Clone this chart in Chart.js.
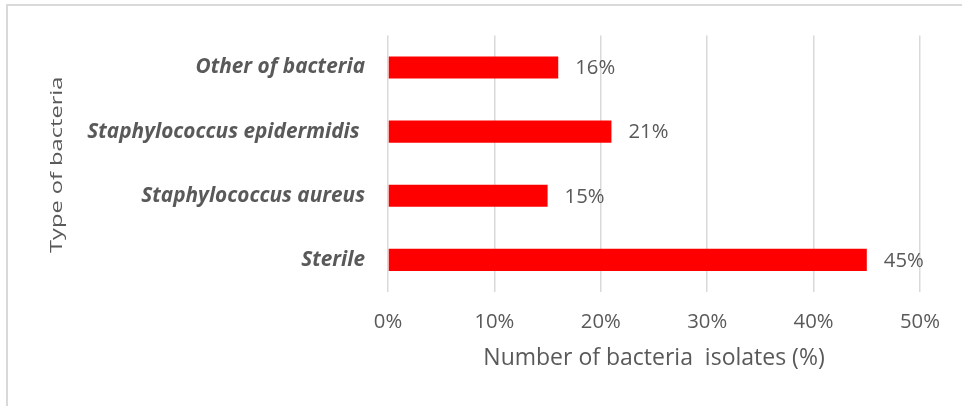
<!DOCTYPE html>
<html>
<head>
<meta charset="utf-8">
<script src="https://cdn.jsdelivr.net/npm/chart.js@4"></script>
<style>
  html, body { margin: 0; padding: 0; background: #fff; overflow: hidden; }
  #frame { position: absolute; left: 6px; top: 4px; width: 1000px; height: 500px; border: 2px solid #d9d9d9; }
  #chart { position: absolute; left: 0; top: 0; }
</style>
</head>
<body>
<div id="frame"></div>
<canvas id="chart" width="962" height="406"></canvas>
<script>
const categories = ['Other of bacteria', 'Staphylococcus epidermidis ', 'Staphylococcus aureus', 'Sterile'];
const isolates = [16, 21, 15, 45];
const xTicks = [0, 10, 20, 30, 40, 50];
const xTitle = 'Number of bacteria  isolates (%)';
const yTitle = 'Type of bacteria';

const grey = '#595959';

// value labels to the right of each bar
const barLabels = {
  id: 'barLabels',
  afterDatasetsDraw(chart) {
    const ctx = chart.ctx;
    ctx.save();
    ctx.font = '20.3px "Open Sans"';
    ctx.fillStyle = grey;
    ctx.textBaseline = 'middle';
    chart.getDatasetMeta(0).data.forEach((bar, i) => {
      ctx.fillText(isolates[i] + '%', bar.x + 17, bar.y + 1);
    });
    ctx.restore();
  }
};

// axis titles (the y title is drawn tall and narrow like the original)
const axisTitles = {
  id: 'axisTitles',
  afterDraw(chart) {
    const { ctx, chartArea } = chart;
    ctx.save();
    ctx.fillStyle = grey;
    ctx.textAlign = 'center';
    ctx.textBaseline = 'middle';
    ctx.font = '23px "Open Sans"';
    ctx.fillText(xTitle, (chartArea.left + chartArea.right) / 2, 358.5);
    ctx.translate(57, (chartArea.top + chartArea.bottom) / 2 + 1);
    ctx.rotate(-Math.PI / 2);
    ctx.scale(1.39, 1);
    ctx.font = '17px "Open Sans"';
    ctx.fillText(yTitle, 0, 0);
    ctx.restore();
  }
};

document.fonts.load('bold italic 20px "Open Sans"').then(() => document.fonts.load('20px "Open Sans"')).then(() => {
  new Chart(document.getElementById('chart'), {
    type: 'bar',
    data: {
      labels: categories,
      datasets: [{
        data: isolates,
        backgroundColor: '#ff0000',
        categoryPercentage: 1,
        barPercentage: 0.345
      }]
    },
    options: {
      indexAxis: 'y',
      responsive: false,
      animation: false,
      layout: { padding: { top: 33, right: 42, bottom: 0, left: 0 } },
      plugins: { legend: { display: false }, tooltip: { enabled: false } },
      scales: {
        x: {
          min: xTicks[0],
          max: xTicks[xTicks.length - 1],
          grid: { color: '#d9d9d9', lineWidth: 1.5, drawTicks: false },
          border: { display: false },
          ticks: {
            stepSize: xTicks[1] - xTicks[0],
            padding: 18,
            color: grey,
            font: { family: 'Open Sans', size: 20.3 },
            callback: v => v + '%'
          },
          afterFit(scale) { scale.height = 406 - 292; }
        },
        y: {
          grid: { display: false, drawTicks: false },
          border: { display: false },
          ticks: {
            padding: 23,
            color: grey,
            font: { family: 'Open Sans', size: 20.8, style: 'italic', weight: 'bold' }
          },
          afterFit(scale) { scale.width = 388; }
        }
      }
    },
    plugins: [barLabels, axisTitles]
  });
});
</script>
</body>
</html>
